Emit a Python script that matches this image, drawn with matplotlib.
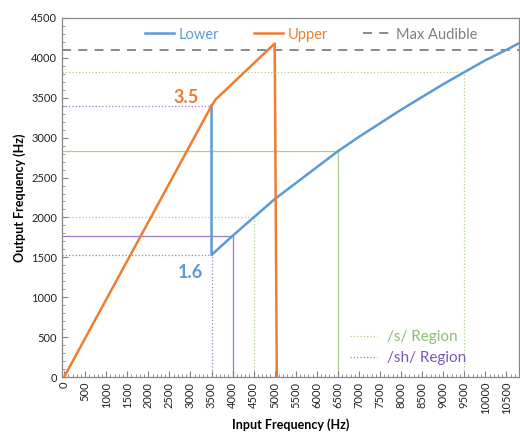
import matplotlib
matplotlib.use("Agg")
import matplotlib.pyplot as plt
from matplotlib.ticker import MultipleLocator
from matplotlib.lines import Line2D

plt.rcParams['font.family'] = ['Lato', 'DejaVu Sans']

# Data
upper_x = [0, 3500, 3600, 5000, 5050]
upper_y = [0, 3400, 3480, 4180, 0]
lower_x = [3500, 3500, 4000, 4500, 5000, 5500, 6000, 6500, 7000, 7500, 8000,
           8500, 9000, 9500, 10000, 10500, 10800]
lower_y = [3400, 1530, 1770, 2000, 2230, 2430, 2630, 2830, 3010, 3180, 3350,
           3510, 3670, 3820, 3970, 4100, 4185]
max_audible = 4100

# /s/ region markers: (input, output, style)
s_points = [(4500, 2000, ':'), (6500, 2830, '-'), (9500, 3820, ':')]
# /sh/ region markers
sh_points = [(3500, 1530, ':'), (4000, 1770, '-')]
sh_extra_h = [(3500, 3400, ':')]

c_blue = '#5B9BD5'
c_orange = '#ED7D31'
c_gray = '#808080'
c_green = '#A9D18E'
c_green_txt = '#8DBE6E'
c_purple = '#9A7CC9'
c_purple_txt = '#7E57B5'

fig = plt.figure(figsize=(5.2, 4.34), dpi=100)
ax = fig.add_axes([62/520, 1-377/434, (519-62)/520, (377-18)/434])

xmin, xmax = -50, 10800
ax.set_xlim(xmin, xmax)
ax.set_ylim(0, 4500)

for x, y, ls in s_points:
    ax.plot([xmin, x], [y, y], color=c_green, lw=0.9, ls=ls, zorder=1)
    ax.plot([x, x], [0, y], color=c_green, lw=0.9, ls=ls, zorder=1)
for x, y, ls in sh_points:
    ax.plot([xmin, x], [y, y], color=c_purple, lw=0.9, ls=ls, zorder=1)
    ax.plot([x, x], [0, y], color=c_purple, lw=0.9, ls=ls, zorder=1)
for x, y, ls in sh_extra_h:
    ax.plot([xmin, x], [y, y], color=c_purple, lw=0.9, ls=ls, zorder=1)

ax.axhline(max_audible, color=c_gray, lw=1.3, ls=(0, (5, 4)), zorder=2)
ax.plot(lower_x, lower_y, color=c_blue, lw=1.8, zorder=3)
ax.plot(upper_x, upper_y, color=c_orange, lw=1.8, zorder=3)

ax.text(2905, 3500, '3.5', color=c_orange, fontsize=13, fontweight='bold',
        ha='center', va='center')
ax.text(3000, 1316, '1.6', color=c_blue, fontsize=13, fontweight='bold',
        ha='center', va='center')

ax.xaxis.set_major_locator(MultipleLocator(500))
ax.xaxis.set_minor_locator(MultipleLocator(100))
ax.yaxis.set_major_locator(MultipleLocator(500))
ax.yaxis.set_minor_locator(MultipleLocator(100))
ax.set_xticks(range(0, 11000, 500))
ax.set_xticklabels([str(v) for v in range(0, 11000, 500)], rotation=90)
ax.tick_params(axis='both', which='both', direction='in', colors='#808080',
               labelcolor='#222222', labelsize=8)
ax.tick_params(which='major', length=4)
ax.tick_params(which='minor', length=2.5)
for s in ax.spines.values():
    s.set_color('#888888')
    s.set_linewidth(0.9)

ax.set_xlabel('Input Frequency (Hz)', fontsize=9, fontweight='bold', labelpad=3)
ax.set_ylabel('Output Frequency (Hz)', fontsize=9, fontweight='bold', labelpad=4)

h1 = [Line2D([], [], color=c_blue, lw=1.8),
      Line2D([], [], color=c_orange, lw=1.8),
      Line2D([], [], color=c_gray, lw=1.3, ls=(0, (5, 4)))]
leg1 = ax.legend(h1, ['Lower', 'Upper', 'Max Audible'], loc='upper center',
                 bbox_to_anchor=(0.545, 1.01), ncol=3, frameon=False,
                 fontsize=10.5, handlelength=2.0, columnspacing=2.4,
                 handletextpad=0.3)
for t, c in zip(leg1.get_texts(), [c_blue, c_orange, c_gray]):
    t.set_color(c)
ax.add_artist(leg1)

h2 = [Line2D([], [], color=c_green, lw=0.9, ls=':'),
      Line2D([], [], color=c_purple, lw=0.9, ls=':')]
leg2 = ax.legend(h2, ['/s/ Region', '/sh/ Region'], loc='lower left',
                 bbox_to_anchor=(0.6, -0.005), frameon=False, fontsize=11,
                 handlelength=1.8, handletextpad=0.6, labelspacing=0.45)
for t, c in zip(leg2.get_texts(), [c_green_txt, c_purple_txt]):
    t.set_color(c)

fig.savefig('out.png', dpi=100)
